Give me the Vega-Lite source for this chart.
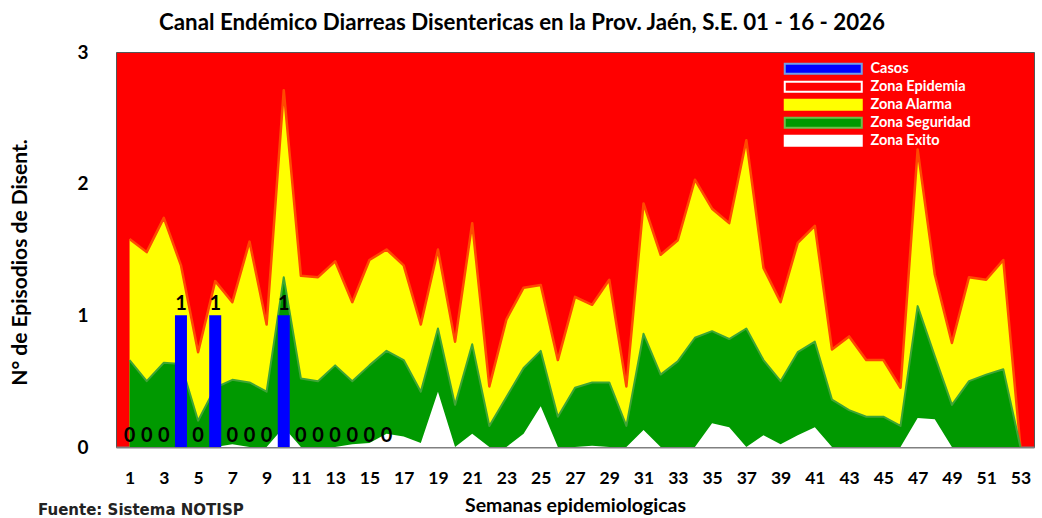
{
  "$schema": "https://vega.github.io/schema/vega-lite/v6.json",
  "background": "white",
  "padding": {"left": 9, "top": 12, "right": 5, "bottom": 0},
  "title": {"text": "Canal Endémico Diarreas Disentericas en la Prov. Jaén, S.E. 01 - 16 - 2026", "font": "Lato", "fontSize": 22.3, "fontWeight": "bold", "color": "black", "anchor": "middle", "frame": "bounds", "offset": 8},
  "config": {
    "view": {"fill": "#FF0000", "stroke": "#555555", "strokeWidth": 1},
    "axis": {"grid": false, "ticks": false, "labelFont": "Lato", "labelFontWeight": "bold", "labelColor": "black", "titleFont": "Lato", "titleFontWeight": "bold", "titleColor": "black"}
  },
  "datasets": {
    "zonas": [
      {"semana": 1, "alarma": 1.58, "seguridad": 0.66, "exito": 0},
      {"semana": 2, "alarma": 1.48, "seguridad": 0.50, "exito": 0},
      {"semana": 3, "alarma": 1.74, "seguridad": 0.64, "exito": 0},
      {"semana": 4, "alarma": 1.38, "seguridad": 0.63, "exito": 0},
      {"semana": 5, "alarma": 0.72, "seguridad": 0.20, "exito": 0},
      {"semana": 6, "alarma": 1.26, "seguridad": 0.45, "exito": 0},
      {"semana": 7, "alarma": 1.10, "seguridad": 0.51, "exito": 0.02},
      {"semana": 8, "alarma": 1.56, "seguridad": 0.49, "exito": 0},
      {"semana": 9, "alarma": 0.93, "seguridad": 0.42, "exito": 0},
      {"semana": 10, "alarma": 2.71, "seguridad": 1.29, "exito": 0.15},
      {"semana": 11, "alarma": 1.30, "seguridad": 0.52, "exito": 0},
      {"semana": 12, "alarma": 1.29, "seguridad": 0.50, "exito": 0},
      {"semana": 13, "alarma": 1.41, "seguridad": 0.62, "exito": 0},
      {"semana": 14, "alarma": 1.10, "seguridad": 0.50, "exito": 0.02},
      {"semana": 15, "alarma": 1.42, "seguridad": 0.62, "exito": 0.03},
      {"semana": 16, "alarma": 1.50, "seguridad": 0.73, "exito": 0.10},
      {"semana": 17, "alarma": 1.38, "seguridad": 0.66, "exito": 0.08},
      {"semana": 18, "alarma": 0.93, "seguridad": 0.42, "exito": 0.03},
      {"semana": 19, "alarma": 1.50, "seguridad": 0.90, "exito": 0.42},
      {"semana": 20, "alarma": 0.80, "seguridad": 0.32, "exito": 0},
      {"semana": 21, "alarma": 1.70, "seguridad": 0.78, "exito": 0.10},
      {"semana": 22, "alarma": 0.46, "seguridad": 0.16, "exito": 0},
      {"semana": 23, "alarma": 0.97, "seguridad": 0.38, "exito": 0},
      {"semana": 24, "alarma": 1.21, "seguridad": 0.60, "exito": 0.10},
      {"semana": 25, "alarma": 1.23, "seguridad": 0.73, "exito": 0.31},
      {"semana": 26, "alarma": 0.66, "seguridad": 0.23, "exito": 0},
      {"semana": 27, "alarma": 1.14, "seguridad": 0.45, "exito": 0},
      {"semana": 28, "alarma": 1.08, "seguridad": 0.49, "exito": 0.01},
      {"semana": 29, "alarma": 1.27, "seguridad": 0.49, "exito": 0},
      {"semana": 30, "alarma": 0.46, "seguridad": 0.16, "exito": 0},
      {"semana": 31, "alarma": 1.85, "seguridad": 0.86, "exito": 0.13},
      {"semana": 32, "alarma": 1.46, "seguridad": 0.55, "exito": 0},
      {"semana": 33, "alarma": 1.57, "seguridad": 0.65, "exito": 0},
      {"semana": 34, "alarma": 2.03, "seguridad": 0.83, "exito": 0},
      {"semana": 35, "alarma": 1.81, "seguridad": 0.88, "exito": 0.18},
      {"semana": 36, "alarma": 1.70, "seguridad": 0.82, "exito": 0.15},
      {"semana": 37, "alarma": 2.33, "seguridad": 0.90, "exito": 0},
      {"semana": 38, "alarma": 1.36, "seguridad": 0.66, "exito": 0.09},
      {"semana": 39, "alarma": 1.10, "seguridad": 0.50, "exito": 0.02},
      {"semana": 40, "alarma": 1.55, "seguridad": 0.72, "exito": 0.09},
      {"semana": 41, "alarma": 1.68, "seguridad": 0.80, "exito": 0.15},
      {"semana": 42, "alarma": 0.74, "seguridad": 0.36, "exito": 0},
      {"semana": 43, "alarma": 0.84, "seguridad": 0.28, "exito": 0},
      {"semana": 44, "alarma": 0.66, "seguridad": 0.23, "exito": 0},
      {"semana": 45, "alarma": 0.66, "seguridad": 0.23, "exito": 0},
      {"semana": 46, "alarma": 0.45, "seguridad": 0.16, "exito": 0},
      {"semana": 47, "alarma": 2.26, "seguridad": 1.07, "exito": 0.22},
      {"semana": 48, "alarma": 1.31, "seguridad": 0.69, "exito": 0.21},
      {"semana": 49, "alarma": 0.79, "seguridad": 0.32, "exito": 0},
      {"semana": 50, "alarma": 1.29, "seguridad": 0.50, "exito": 0},
      {"semana": 51, "alarma": 1.27, "seguridad": 0.55, "exito": 0},
      {"semana": 52, "alarma": 1.42, "seguridad": 0.59, "exito": 0},
      {"semana": 53, "alarma": 0, "seguridad": 0, "exito": 0}
    ],
    "casos": [
      {"semana": 1, "casos": 0}, {"semana": 2, "casos": 0}, {"semana": 3, "casos": 0},
      {"semana": 4, "casos": 1}, {"semana": 5, "casos": 0}, {"semana": 6, "casos": 1},
      {"semana": 7, "casos": 0}, {"semana": 8, "casos": 0}, {"semana": 9, "casos": 0},
      {"semana": 10, "casos": 1}, {"semana": 11, "casos": 0}, {"semana": 12, "casos": 0},
      {"semana": 13, "casos": 0}, {"semana": 14, "casos": 0}, {"semana": 15, "casos": 0},
      {"semana": 16, "casos": 0}
    ]
  },
  "vconcat": [
    {
      "width": 918,
      "height": 395,
      "title": {"text": "Fuente: Sistema NOTISP", "orient": "bottom", "anchor": "start", "frame": "bounds", "font": "DejaVu Sans", "fontSize": 15, "fontWeight": "bold", "color": "#222222", "dx": 28, "offset": -12},
      "encoding": {
        "x": {"field": "semana", "type": "quantitative", "scale": {"domain": [0.5, 53.5], "nice": false, "zero": false},
              "axis": {"values": [1,3,5,7,9,11,13,15,17,19,21,23,25,27,29,31,33,35,37,39,41,43,45,47,49,51,53], "labelFontSize": 17.5, "labelPadding": 22, "domainColor": "#808080", "domainWidth": 2, "title": "Semanas epidemiologicas", "titleFontSize": 19.5, "titlePadding": 10}},
        "y": {"type": "quantitative", "scale": {"domain": [0, 3], "nice": false},
              "axis": {"values": [0,1,2,3], "labelFontSize": 19, "labelPadding": 28, "domain": false, "title": "N° de Episodios de Disent.", "titleFontSize": 21, "titlePadding": 46, "titleY": 210}}
      },
      "layer": [
        {
          "data": {"name": "zonas"},
          "mark": {"type": "area"},
          "encoding": {
            "y": {"field": "alarma"},
            "color": {"datum": "Zona Alarma", "type": "nominal",
              "scale": {"domain": ["Casos", "Zona Epidemia", "Zona Alarma", "Zona Seguridad", "Zona Exito"], "range": ["#0000FF", "#FF0000", "#FFFF00", "#009900", "#FFFFFF"]},
              "legend": {"orient": "none", "legendX": 700, "legendY": 9.5, "title": null, "padding": 0,
                "symbolType": "M-7.7,-1H7.7V1H-7.7Z", "symbolSize": 100, "symbolOpacity": 1, "symbolStrokeWidth": 2,
                "labelFont": "Lato", "labelFontSize": 14.5, "labelFontWeight": "bold", "labelColor": "white", "labelOffset": 40, "rowPadding": -1,
                "encode": {"symbols": {"update": {"stroke": {"signal": "datum.value === 'Casos' ? '#6FA0E8' : datum.value === 'Zona Seguridad' ? '#6CC04A' : datum.value === 'Zona Alarma' ? '#FFFF00' : '#FFFFFF'"}, "strokeWidth": {"value": 2}}}}}}
          }
        },
        {
          "data": {"name": "zonas"},
          "mark": {"type": "line", "color": "#FF4A00", "strokeWidth": 2.5, "strokeJoin": "round"},
          "encoding": {
            "y": {"field": "alarma"}
          }
        },
        {
          "data": {"name": "zonas"},
          "mark": {"type": "area"},
          "encoding": {
            "y": {"field": "seguridad"},
            "color": {"datum": "Zona Seguridad", "type": "nominal"}
          }
        },
        {
          "data": {"name": "zonas"},
          "mark": {"type": "line", "color": "#3FA535", "strokeWidth": 2, "strokeJoin": "round"},
          "encoding": {
            "y": {"field": "seguridad"}
          }
        },
        {
          "data": {"name": "zonas"},
          "mark": {"type": "area"},
          "encoding": {
            "y": {"field": "exito"},
            "color": {"datum": "Zona Exito", "type": "nominal"}
          }
        },
        {
          "data": {"name": "casos"},
          "mark": {"type": "bar", "size": 12},
          "encoding": {
            "y": {"field": "casos"},
            "color": {"datum": "Casos", "type": "nominal"}
          }
        },
        {
          "data": {"name": "casos"},
          "mark": {"type": "text", "baseline": "bottom", "dy": -1, "font": "Lato", "fontSize": 20, "fontWeight": "bold", "color": "black"},
          "encoding": {
            "y": {"field": "casos"},
            "text": {"field": "casos", "type": "quantitative"}
          }
        }
      ]
    }
  ]
}
